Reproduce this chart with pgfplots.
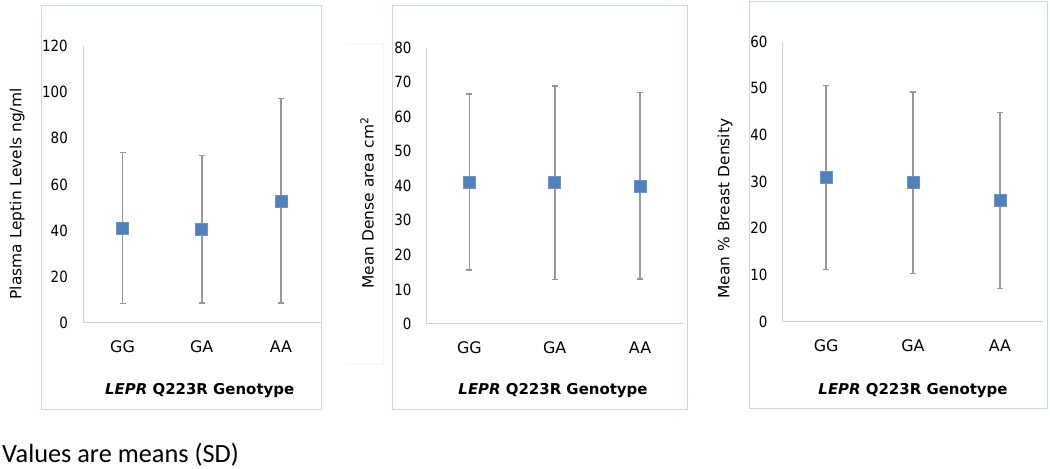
\documentclass[border=0pt]{standalone}
\usepackage{fontspec}
\usepackage{pgfplots}
\pgfplotsset{compat=1.18}
\setmainfont{DejaVu Sans}
\newfontfamily\tickfont[FakeStretch=0.87]{DejaVu Sans}
\newfontfamily\notefont{Carlito}

\definecolor{markblue}{HTML}{4F81BD}
\definecolor{errgray}{HTML}{979797}
\definecolor{axisgray}{HTML}{D0D0D0}
\definecolor{framecol}{HTML}{C6D7EC}

\pgfplotsset{
  panel/.style={
    scale only axis,
    axis x line*=bottom, axis y line*=left,
    axis line style={draw=axisgray, line width=1bp, -},
    major tick length=0pt,
    xmin=0.5, xmax=3.5, ymin=0,
    xtick={1,2,3}, xticklabels={GG,GA,AA},
    /pgf/number format/assume math mode=true,
    y tick label style={font=\tickfont\fontsize{15.5}{18}\selectfont, anchor=east, inner sep=0pt, xshift=-15bp},
    x tick label style={font=\fontsize{16}{19}\selectfont, anchor=base, inner sep=0pt, yshift=-30bp},
    clip=false,
  },
  means/.style={
    only marks,
    mark=square*,
    mark size=6bp,
    mark options={fill=markblue, draw=markblue!85!white, line width=0.6bp},
    error bars/.cd,
      y dir=both, y explicit,
      error bar style={draw=errgray, line width=1.6bp},
      error mark options={rotate=90, draw=errgray, line width=1.3bp, mark size=3bp},
  },
}

\begin{document}
\begin{tikzpicture}[x=1bp,y=1bp]
\useasboundingbox (0,0) rectangle (1050,469);

% panel frames
\draw[framecol, line width=1bp] (41,59) rectangle (321,463);
\draw[framecol, line width=1bp] (392.7,59) rectangle (687,463);
\draw[framecol, line width=1bp] (749.3,60) rectangle (1047,467.5);
\draw[black!4, line width=0.8bp] (345,105) -- (383,105) -- (383,426) -- (345,426);

% plasma leptin
\begin{axis}[panel, at={(83bp,146bp)}, anchor=south west,
  width=237.5bp, height=277bp, ymax=120, ytick={0,20,...,120}]
  \addplot[means] table[x=x, y=y, y error=sd] {
    x y sd
    1 41.2 32.8
    2 40.7 32.0
    3 52.9 44.3
  };
\end{axis}

% dense area
\begin{axis}[panel, at={(426.7bp,145bp)}, anchor=south west,
  width=256bp, height=276.3bp, ymax=80, ytick={0,10,...,80}]
  \addplot[means] table[x=x, y=y, y error=sd] {
    x y sd
    1 41.1 25.5
    2 40.9 28.0
    3 40.0 27.0
  };
\end{axis}

% percent density
\begin{axis}[panel, at={(782.7bp,147.3bp)}, anchor=south west,
  width=260.6bp, height=280bp, ymax=60, ytick={0,10,...,60}]
  \addplot[means] table[x=x, y=y, y error=sd] {
    x y sd
    1 30.9 19.7
    2 29.8 19.4
    3 26.0 18.9
  };
\end{axis}

% axis titles
\begin{scope}[every node/.style={inner sep=0pt, font=\fontsize{15.5}{18}\selectfont}]
  \node[rotate=90] at (17,275) {Plasma Leptin Levels ng/ml};
  \node[rotate=90] at (367,266) {Mean Dense area cm\textsuperscript{2}};
  \node[rotate=90] at (725,260.5) {Mean \% Breast Density};
\end{scope}
\begin{scope}[every node/.style={inner sep=0pt, anchor=base, font=\bfseries\fontsize{15}{18}\selectfont}]
  \node at (199.7,74) {\textit{LEPR} Q223R Genotype};
  \node at (553,74) {\textit{LEPR} Q223R Genotype};
  \node at (913,74) {\textit{LEPR} Q223R Genotype};
\end{scope}

\node[anchor=base west, inner sep=0pt, font=\notefont\fontsize{26.4}{30}\selectfont] at (2,6) {Values are means (SD)};
\end{tikzpicture}
\end{document}
